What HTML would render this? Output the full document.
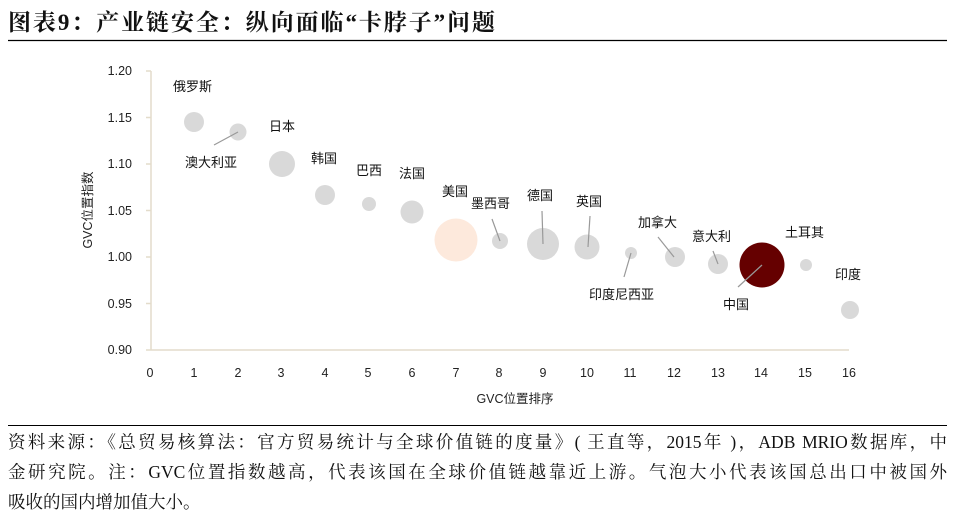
<!DOCTYPE html>
<html><head><meta charset="utf-8"><style>
body{margin:0;width:955px;height:527px;background:#fff;overflow:hidden;font-family:"Liberation Serif","Noto Serif CJK SC",serif;}
.title{position:absolute;left:8px;top:4px;width:487px;font-size:23px;font-weight:bold;color:#111;white-space:nowrap;text-align:justify;text-align-last:justify;font-family:"Liberation Serif","Noto Serif CJK SC",serif}
.note{position:absolute;left:8px;top:427px;width:939px;font-size:17.5px;line-height:30px;color:#111;font-family:"Liberation Serif","Noto Serif CJK SC",serif}
.note div{white-space:nowrap;text-align:justify;text-align-last:justify}
.note div.last{text-align-last:left}
svg{position:absolute;left:0;top:0}
</style></head><body>
<div class="title">图表9：产业链安全：纵向面临“卡脖子”问题</div>
<svg width="955" height="527" font-family="Liberation Sans, Noto Sans CJK SC, sans-serif">
<line x1="8" y1="40.5" x2="947" y2="40.5" stroke="#000" stroke-width="1.3"/>
<line x1="8" y1="425.5" x2="947" y2="425.5" stroke="#000" stroke-width="1"/>
<g stroke="#e3dccb" stroke-width="1.5">
<line x1="151" y1="71" x2="151" y2="350"/>
<line x1="151" y1="350" x2="849" y2="350"/>
<line x1="146" y1="71" x2="151" y2="71"/><line x1="146" y1="117.5" x2="151" y2="117.5"/><line x1="146" y1="164" x2="151" y2="164"/><line x1="146" y1="210.5" x2="151" y2="210.5"/><line x1="146" y1="257" x2="151" y2="257"/><line x1="146" y1="303.5" x2="151" y2="303.5"/><line x1="146" y1="350" x2="151" y2="350"/>
</g>
<g font-size="12.5" fill="#222" text-anchor="end">
<text x="132" y="75">1.20</text><text x="132" y="122">1.15</text><text x="132" y="168">1.10</text><text x="132" y="215">1.05</text><text x="132" y="261">1.00</text><text x="132" y="308">0.95</text><text x="132" y="354">0.90</text>
</g>
<g font-size="12.5" fill="#222" text-anchor="middle">
<text x="150" y="377">0</text><text x="194" y="377">1</text><text x="238" y="377">2</text><text x="281" y="377">3</text><text x="325" y="377">4</text><text x="368" y="377">5</text><text x="412" y="377">6</text><text x="456" y="377">7</text><text x="499" y="377">8</text><text x="543" y="377">9</text><text x="587" y="377">10</text><text x="630" y="377">11</text><text x="674" y="377">12</text><text x="718" y="377">13</text><text x="761" y="377">14</text><text x="805" y="377">15</text><text x="849" y="377">16</text>
<text x="515" y="403">GVC位置排序</text>
<text transform="translate(92,210) rotate(-90)">GVC位置指数</text>
</g>
<g fill="#d9d9d9">
<circle cx="194" cy="122" r="10"/><circle cx="238" cy="132" r="8.5"/><circle cx="282" cy="164" r="13"/><circle cx="325" cy="195" r="10"/><circle cx="369" cy="204" r="7"/><circle cx="412" cy="212" r="11.5"/>
<circle cx="500" cy="241" r="8"/><circle cx="543" cy="244" r="16"/><circle cx="587" cy="247" r="12.5"/><circle cx="631" cy="253" r="6"/><circle cx="675" cy="257" r="10"/><circle cx="718" cy="264" r="10"/><circle cx="806" cy="265" r="6"/><circle cx="850" cy="310" r="9"/>
</g>
<circle cx="456" cy="240" r="21.5" fill="#fde9dc"/>
<circle cx="762" cy="265" r="22.5" fill="#650000"/>
<g stroke="#999" stroke-width="1.2">
<line x1="214" y1="145" x2="238" y2="132"/><line x1="492" y1="219" x2="500" y2="241"/><line x1="542" y1="211" x2="543" y2="244"/><line x1="590" y1="216" x2="588" y2="247"/><line x1="624" y1="277" x2="631" y2="253"/><line x1="658" y1="237" x2="674" y2="257"/><line x1="713" y1="251" x2="718" y2="264"/><line x1="738" y1="287" x2="762" y2="265"/>
</g>
<g font-size="13" fill="#111">
<text x="173" y="91">俄罗斯</text><text x="269" y="131">日本</text><text x="185" y="167">澳大利亚</text><text x="311" y="163">韩国</text><text x="356" y="175">巴西</text><text x="399" y="178">法国</text><text x="442" y="196">美国</text><text x="471" y="208">墨西哥</text><text x="527" y="200">德国</text><text x="576" y="206">英国</text><text x="638" y="227">加拿大</text><text x="692" y="241">意大利</text><text x="785" y="237">土耳其</text><text x="589" y="299">印度尼西亚</text><text x="723" y="309">中国</text><text x="835" y="279">印度</text>
</g>
</svg>
<div class="note">
<div>资料来源：《总贸易核算法：官方贸易统计与全球价值链的度量》( 王直等，2015年 )，ADB MRIO数据库，中</div>
<div>金研究院。注：GVC位置指数越高，代表该国在全球价值链越靠近上游。气泡大小代表该国总出口中被国外</div>
<div class="last">吸收的国内增加值大小。</div>
</div>
</body></html>
